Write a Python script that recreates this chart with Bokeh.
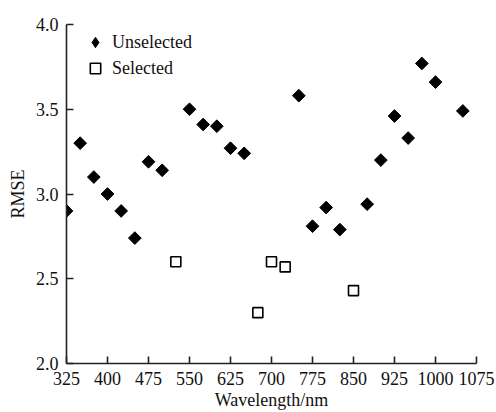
import math
from bokeh.plotting import figure
from bokeh.models import FixedTicker, Legend, LegendItem
from bokeh.embed import file_html
from bokeh.resources import INLINE

# ---- data ----
unsel_wl = [325, 350, 375, 400, 425, 450, 475, 500, 550, 575, 600, 625, 650,
            750, 775, 800, 825, 875, 900, 925, 950, 975, 1000, 1050]
unsel_rmse = [2.90, 3.30, 3.10, 3.00, 2.90, 2.74, 3.19, 3.14, 3.50, 3.41, 3.40, 3.27, 3.24,
              3.58, 2.81, 2.92, 2.79, 2.94, 3.20, 3.46, 3.33, 3.77, 3.66, 3.49]
sel_wl = [525, 675, 700, 725, 850]
sel_rmse = [2.60, 2.30, 2.60, 2.57, 2.43]

x_ticks = [325, 400, 475, 550, 625, 700, 775, 850, 925, 1000, 1075]
y_ticks = [2.0, 2.5, 3.0, 3.5, 4.0]
y_tick_labels = ["2.0", "2.5", "3.0", "3.5", "4.0"]

FONT = "Liberation Serif"
INK = "#222222"

p = figure(width=496, height=412,
           x_range=(325, 1075), y_range=(2.0, 4.0),
           output_backend="svg", toolbar_location=None,
           min_border_left=66, min_border_right=20,
           min_border_top=24, min_border_bottom=47)

p.xgrid.visible = False
p.ygrid.visible = False
p.outline_line_color = None
p.background_fill_color = "white"
p.border_fill_color = "white"

for ax in (p.xaxis[0], p.yaxis[0]):
    ax.axis_line_color = INK
    ax.axis_line_width = 1.6
    ax.major_tick_line_color = INK
    ax.major_tick_line_width = 1.6
    ax.major_tick_in = 7
    ax.major_tick_out = 0
    ax.minor_tick_line_color = None
    ax.major_label_text_font = FONT
    ax.major_label_text_font_size = "18px"
    ax.major_label_text_color = "#111111"
    ax.axis_label_text_font = FONT
    ax.axis_label_text_font_size = "18px"
    ax.axis_label_text_font_style = "normal"
    ax.axis_label_text_color = "#111111"

p.xaxis.ticker = FixedTicker(ticks=x_ticks)
p.yaxis.ticker = FixedTicker(ticks=y_ticks)
p.yaxis.major_label_overrides = {t: l for t, l in zip(y_ticks, y_tick_labels)}
p.xaxis.axis_label = "Wavelength/nm"
p.yaxis.axis_label = "RMSE"
p.xaxis.major_label_standoff = 8
p.xaxis.axis_label_standoff = 2
p.yaxis.major_label_standoff = 8
p.yaxis.axis_label_standoff = 5

r_unsel = p.scatter(unsel_wl, unsel_rmse, marker="square", size=9, angle=math.pi / 4,
                    fill_color="black", line_color="black", line_width=1)
r_sel = p.scatter(sel_wl, sel_rmse, marker="square", size=10,
                  fill_color="white", line_color="black", line_width=1.6)

# legend-only glyphs (the legend does not rotate markers); NaN => nothing drawn in plot
leg_unsel = p.scatter([math.nan], [math.nan], marker="diamond", fill_color="black",
                      line_color="black", line_width=1)
leg_sel = p.scatter([math.nan], [math.nan], marker="square", fill_color="white",
                    line_color="black", line_width=1.6)

legend = Legend(items=[LegendItem(label="Unselected", renderers=[leg_unsel]),
                       LegendItem(label="Selected", renderers=[leg_sel])],
                location=(14, 282),
                padding=0, margin=0, spacing=0,
                glyph_width=30, glyph_height=26, label_height=26,
                label_standoff=2,
                label_text_font=FONT, label_text_font_size="18px",
                label_text_color="#111111",
                border_line_color=None, background_fill_alpha=0)
p.add_layout(legend, "center")

open("out.html", "w").write(file_html(p, INLINE))
